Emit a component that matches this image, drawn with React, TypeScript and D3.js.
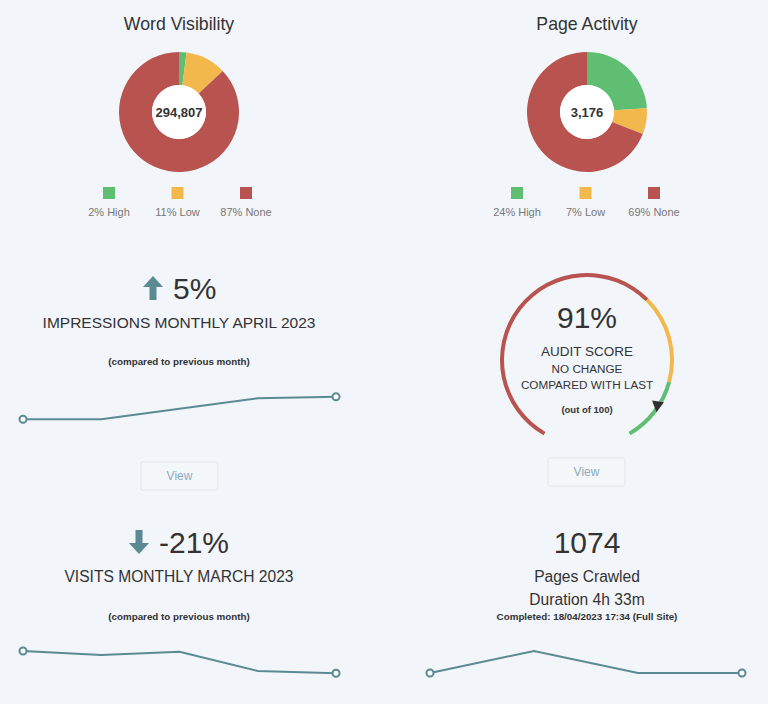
import React from 'react';
import * as d3 from 'd3';

const W = 768;
const H = 704;

// ---- Data ----
const segmentLabels = ['High', 'Low', 'None'];
const segmentColors = ['#5fbe71', '#f2b84b', '#b8534f'];
const wordVisibilityValues = [2, 11, 87];
const wordVisibilityTotal = '294,807';
const pageActivityValues = [24, 7, 69];
const pageActivityTotal = '3,176';

const impressionsValues = [40000, 40000, 41050, 42100, 42260];
const visitsValues = [2900, 2817, 2886, 2484, 2436];
const crawlValues = [1074, 1160, 1074, 1074];

const gaugeBands = [
  { from: 0, to: 65, color: '#b8534f' },
  { from: 65, to: 85, color: '#f2b84b' },
  { from: 85, to: 100, color: '#5fbe71' },
];
const auditScore = 91;

const FONT = '"Liberation Sans", Arial, Helvetica, sans-serif';
const LINE = '#5b8a93';
const TEXT = '#333';

function Donut({ cx, cy, title, values, total }: { cx: number; cy: number; title: string; values: number[]; total: string }) {
  const pie = d3.pie<number>().sort(null).value((d) => d);
  const arc = d3.arc<d3.PieArcDatum<number>>().innerRadius(27).outerRadius(60);
  const arcs = pie(values);
  const legendX = d3.scalePoint<number>().domain([0, 1, 2]).range([cx - 70, cx + 67]);
  return (
    <g>
      <text x={cx} y={30} textAnchor="middle" fontSize={17.7} fill={TEXT} fontFamily={FONT}>{title}</text>
      <g transform={`translate(${cx},${cy})`}>
        {arcs.map((a, i) => (
          <path key={i} d={arc(a) || ''} fill={segmentColors[i]} />
        ))}
        <circle r={27} fill="#ffffff" />
        <text y={5} textAnchor="middle" fontSize={13} fontWeight="bold" fill={TEXT} fontFamily={FONT}>{total}</text>
      </g>
      {values.map((v, i) => (
        <g key={i} transform={`translate(${legendX(i)},0)`}>
          <rect x={-6} y={187} width={12} height={12} fill={segmentColors[i]} />
          <text x={0} y={216} textAnchor="middle" fontSize={11} fill="#777" fontFamily={FONT}>{`${v}% ${segmentLabels[i]}`}</text>
        </g>
      ))}
    </g>
  );
}

function Sparkline({ values, x0, x1, yTop, yBottom }: { values: number[]; x0: number; x1: number; yTop: number; yBottom: number }) {
  const x = d3.scalePoint<number>().domain(values.map((_, i) => i)).range([x0, x1]);
  const ext = d3.extent(values) as [number, number];
  const y = d3.scaleLinear().domain(ext).range([yBottom, yTop]);
  const line = d3.line<number>().x((_, i) => x(i) as number).y((d) => y(d));
  const last = values.length - 1;
  return (
    <g>
      <path d={line(values) || ''} fill="none" stroke={LINE} strokeWidth={2} />
      <circle cx={x(0)} cy={y(values[0])} r={3.5} fill="#fff" stroke={LINE} strokeWidth={2} />
      <circle cx={x(last)} cy={y(values[last])} r={3.5} fill="#fff" stroke={LINE} strokeWidth={2} />
    </g>
  );
}

function ViewButton({ x, y }: { x: number; y: number }) {
  return (
    <g>
      <rect x={x} y={y} width={77} height={28} rx={2} fill="#f4f7fa" stroke="#e2e6ea" strokeWidth={1} />
      <text x={x + 38.5} y={y + 18} textAnchor="middle" fontSize={12} fill="#8aabbd" fontFamily={FONT}>View</text>
    </g>
  );
}

function Arrow({ x, y, up }: { x: number; y: number; up: boolean }) {
  // 20 wide, 24 tall block arrow; (x,y) = top-left
  const d = up
    ? `M${x + 10},${y} L${x + 20},${y + 11} L${x + 13.5},${y + 11} L${x + 13.5},${y + 24} L${x + 6.5},${y + 24} L${x + 6.5},${y + 11} L${x},${y + 11} Z`
    : `M${x + 10},${y + 24} L${x + 20},${y + 13} L${x + 13.5},${y + 13} L${x + 13.5},${y} L${x + 6.5},${y} L${x + 6.5},${y + 13} L${x},${y + 13} Z`;
  return <path d={d} fill={LINE} />;
}

function Gauge({ cx, cy }: { cx: number; cy: number }) {
  const r = 85;
  const ang = d3.scaleLinear().domain([0, 100]).range([(-150 * Math.PI) / 180, (150 * Math.PI) / 180]);
  const arc = d3.arc<{ from: number; to: number }>()
    .innerRadius(r - 2)
    .outerRadius(r + 2)
    .startAngle((d) => ang(d.from))
    .endAngle((d) => ang(d.to));
  const a = ang(auditScore);
  const mx = r * Math.sin(a);
  const my = -r * Math.cos(a);
  return (
    <g transform={`translate(${cx},${cy})`}>
      {gaugeBands.map((b, i) => (
        <path key={i} d={arc(b) || ''} fill={b.color} />
      ))}
      <path
        d="M-6,-5 L6,-5 L0,6 Z"
        fill="#2f2f2f"
        transform={`translate(${mx - 1},${my}) rotate(8)`}
      />
      <text y={-32} textAnchor="middle" fontSize={30} fill={TEXT} fontFamily={FONT}>{`${auditScore}%`}</text>
      <text y={-4} textAnchor="middle" fontSize={13.5} fill={TEXT} fontFamily={FONT}>AUDIT SCORE</text>
      <text y={12.5} textAnchor="middle" fontSize={11.7} fill={TEXT} fontFamily={FONT}>NO CHANGE</text>
      <text y={29} textAnchor="middle" fontSize={11.7} fill={TEXT} fontFamily={FONT}>COMPARED WITH LAST</text>
      <text y={53} textAnchor="middle" fontSize={9.5} fontWeight="bold" fill={TEXT} fontFamily={FONT}>(out of 100)</text>
    </g>
  );
}

export default function App() {
  const L = 179;
  const R = 587;
  return (
    <svg width={W} height={H} style={{ position: 'absolute', left: 0, top: 0, display: 'block' }}>
      <rect width={W} height={H} fill="#f2f5f9" />
      <Donut cx={L} cy={112} title="Word Visibility" values={wordVisibilityValues} total={wordVisibilityTotal} />
      <Donut cx={R} cy={112} title="Page Activity" values={pageActivityValues} total={pageActivityTotal} />

      {/* Impressions */}
      <Arrow x={143} y={276} up={true} />
      <text x={173} y={299} fontSize={30} fill={TEXT} fontFamily={FONT}>5%</text>
      <text x={L} y={328} textAnchor="middle" fontSize={15.5} fill={TEXT} fontFamily={FONT}>IMPRESSIONS MONTHLY APRIL 2023</text>
      <text x={L} y={365} textAnchor="middle" fontSize={9.8} fontWeight="bold" fill={TEXT} fontFamily={FONT}>(compared to previous month)</text>
      <Sparkline values={impressionsValues} x0={23} x1={336} yTop={396.7} yBottom={419.3} />
      <ViewButton x={141} y={462} />

      {/* Audit gauge */}
      <Gauge cx={R} cy={360} />
      <ViewButton x={548} y={458} />

      {/* Visits */}
      <Arrow x={129} y={530} up={false} />
      <text x={159} y={553} fontSize={30} fill={TEXT} fontFamily={FONT}>-21%</text>
      <text x={L} y={582} textAnchor="middle" fontSize={15.6} fill={TEXT} fontFamily={FONT}>VISITS MONTHLY MARCH 2023</text>
      <text x={L} y={620} textAnchor="middle" fontSize={9.8} fontWeight="bold" fill={TEXT} fontFamily={FONT}>(compared to previous month)</text>
      <Sparkline values={visitsValues} x0={23} x1={336} yTop={651} yBottom={673.3} />

      {/* Pages crawled */}
      <text x={R} y={553} textAnchor="middle" fontSize={30} fill={TEXT} fontFamily={FONT}>1074</text>
      <text x={R} y={582} textAnchor="middle" fontSize={15.6} fill={TEXT} fontFamily={FONT}>Pages Crawled</text>
      <text x={R} y={605} textAnchor="middle" fontSize={15.6} fill={TEXT} fontFamily={FONT}>Duration 4h 33m</text>
      <text x={R} y={620} textAnchor="middle" fontSize={9.8} fontWeight="bold" fill={TEXT} fontFamily={FONT}>Completed: 18/04/2023 17:34 (Full Site)</text>
      <Sparkline values={crawlValues} x0={430} x1={742} yTop={651} yBottom={673} />
    </svg>
  );
}
